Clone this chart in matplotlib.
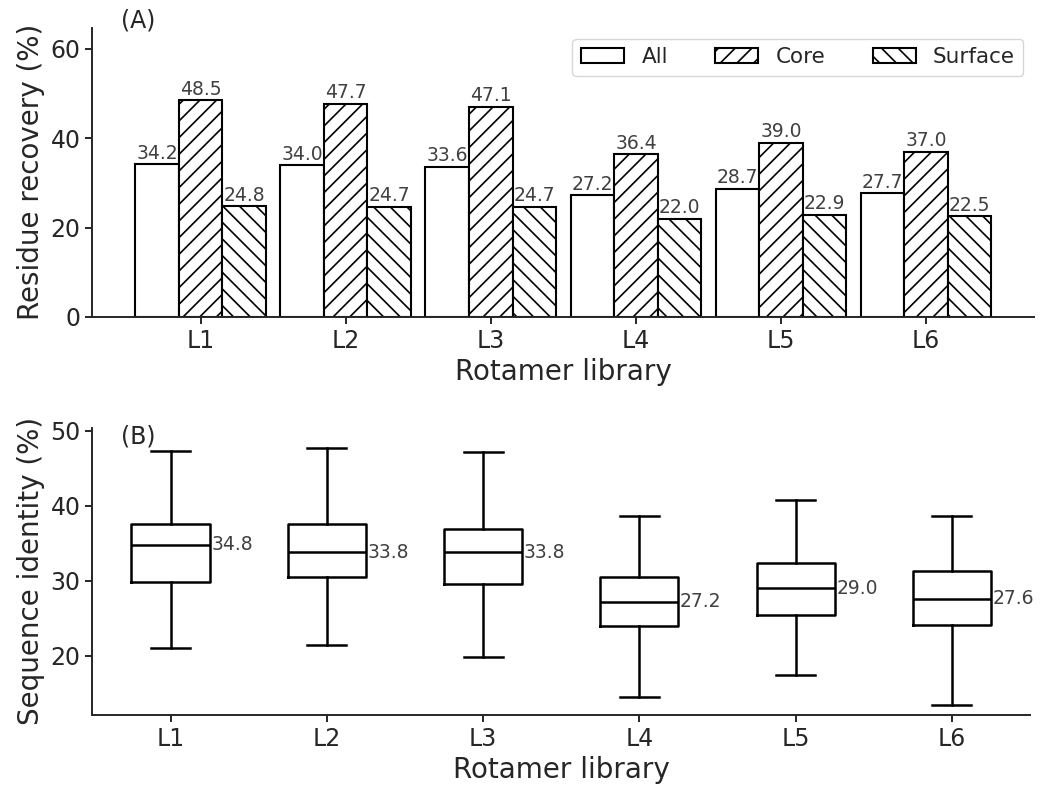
"""
Rotamer library comparison: residue recovery bars (A) and sequence identity boxes (B).
"""

import matplotlib
matplotlib.use("Agg")
import matplotlib.pyplot as plt
import numpy as np

# ---------------------------------------------------------------------------
# Data
# ---------------------------------------------------------------------------
libraries = ["L1", "L2", "L3", "L4", "L5", "L6"]

recovery_all = [34.2, 34.0, 33.6, 27.2, 28.7, 27.7]
recovery_core = [48.5, 47.7, 47.1, 36.4, 39.0, 37.0]
recovery_surface = [24.8, 24.7, 24.7, 22.0, 22.9, 22.5]

# box summaries of sequence identity (%)
ident_whislo = [21.0, 21.5, 19.9, 14.5, 17.5, 13.5]
ident_q1 = [29.8, 30.5, 29.5, 23.9, 25.4, 24.1]
ident_med = [34.8, 33.8, 33.8, 27.2, 29.0, 27.6]
ident_q3 = [37.6, 37.6, 36.9, 30.5, 32.4, 31.3]
ident_whishi = [47.3, 47.7, 47.1, 38.6, 40.8, 38.6]

TEXT = "0.15"
ANNOT = "0.25"

plt.rcParams.update({
    "font.family": "DejaVu Sans",
    "text.color": TEXT,
    "axes.labelcolor": TEXT,
    "axes.edgecolor": TEXT,
    "xtick.color": TEXT,
    "ytick.color": TEXT,
    "axes.linewidth": 1.4,
    "xtick.major.width": 1.4,
    "ytick.major.width": 1.4,
    "xtick.major.size": 5,
    "ytick.major.size": 5,
    "xtick.labelsize": 17,
    "ytick.labelsize": 17,
    "axes.labelsize": 20,
    "hatch.linewidth": 1.2,
})

fig = plt.figure(figsize=(10.5, 7.98), dpi=100)
ax_a = fig.add_axes([0.088, 0.603, 0.897, 0.362])
ax_b = fig.add_axes([0.088, 0.104, 0.893, 0.360])

# ---------------------------------------------------------------------------
# (A) residue recovery
# ---------------------------------------------------------------------------
x = np.arange(len(libraries))
w = 0.3
series = [
    (recovery_all, "All", "", -w),
    (recovery_core, "Core", "//", 0.0),
    (recovery_surface, "Surface", "\\\\", w),
]
for vals, lab, hatch, off in series:
    bars = ax_a.bar(x + off, vals, w, color="white", edgecolor="black",
                    linewidth=1.5, hatch=hatch, label=lab)
    for b, v in zip(bars, vals):
        ax_a.text(b.get_x() + b.get_width() / 2, v + 0.3, f"{v:.1f}",
                  ha="center", va="bottom", fontsize=13.5, color=ANNOT)

ax_a.set_xticks(x)
ax_a.set_xticklabels(libraries)
ax_a.set_ylim(0, 64.7)
ax_a.set_yticks([0, 20, 40, 60])
ax_a.set_xlabel("Rotamer library")
ax_a.set_ylabel("Residue recovery (%)")
ax_a.legend(loc="upper right", ncol=3, fontsize=15.5, handlelength=2.0,
            columnspacing=2.2, bbox_to_anchor=(1.0, 1.0))
ax_a.text(0.03, 1.025, "(A)", transform=ax_a.transAxes, fontsize=17,
          ha="left", va="center")
for s in ("top", "right"):
    ax_a.spines[s].set_visible(False)

# ---------------------------------------------------------------------------
# (B) sequence identity
# ---------------------------------------------------------------------------
stats = []
for i, lab in enumerate(libraries):
    stats.append({
        "label": lab,
        "whislo": ident_whislo[i],
        "q1": ident_q1[i],
        "med": ident_med[i],
        "q3": ident_q3[i],
        "whishi": ident_whishi[i],
        "fliers": [],
    })
line = dict(color="black", linewidth=1.8)
ax_b.bxp(stats, positions=np.arange(1, 7), widths=0.5, showfliers=False,
         boxprops=line, whiskerprops=line, capprops=line, medianprops=line)
for i, m in enumerate(ident_med):
    ax_b.text(i + 1 + 0.26, m, f"{m:.1f}", ha="left", va="center",
              fontsize=13.5, color=ANNOT)

ax_b.set_xlim(0.5, 6.5)
ax_b.set_ylim(12.1, 50.4)
ax_b.set_yticks([20, 30, 40, 50])
ax_b.set_xlabel("Rotamer library")
ax_b.set_ylabel("Sequence identity (%)")
ax_b.text(0.03, 0.97, "(B)", transform=ax_b.transAxes, fontsize=17,
          ha="left", va="center")
for s in ("top", "right"):
    ax_b.spines[s].set_visible(False)

fig.savefig("out.png", dpi=100)
